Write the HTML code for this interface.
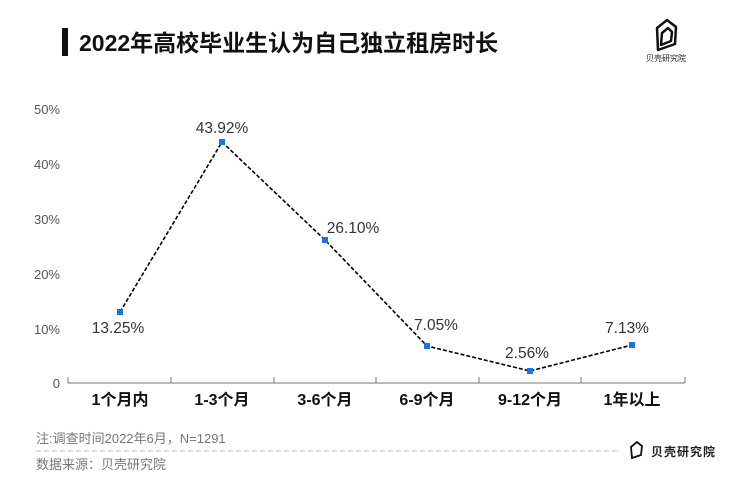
<!DOCTYPE html>
<html><head><meta charset="utf-8"><style>
body{margin:0;background:#fff;}
svg text{font-family:"Liberation Sans","Noto Sans CJK SC",sans-serif;}
</style></head><body>
<svg width="750" height="494" viewBox="0 0 750 494" xmlns="http://www.w3.org/2000/svg">
<rect x="62" y="28" width="6" height="28" fill="#111"/>
<text x="79" y="51" font-size="23" font-weight="bold" fill="#111">2022年高校毕业生认为自己独立租房时长</text>
<g fill="none" stroke="#111" stroke-width="2.5" stroke-linejoin="round">
<path d="M657 28 L667 20 L676 27 L675 44 L658 50 Z"/>
<path d="M662 33 L668 28 L672 32 L671 41 L661 45 Z"/>
</g>
<text x="666" y="61" font-size="8" text-anchor="middle" fill="#222">贝壳研究院</text>
<g font-size="13" fill="#555" text-anchor="end">
<text x="60" y="114">50%</text><text x="60" y="169">40%</text><text x="60" y="224">30%</text>
<text x="60" y="279">20%</text><text x="60" y="334">10%</text><text x="60" y="388">0</text>
</g>
<line x1="68" y1="383" x2="685" y2="383" stroke="#777" stroke-width="1"/>
<g stroke="#777"><line x1="171" y1="377" x2="171" y2="383"/><line x1="274" y1="377" x2="274" y2="383"/><line x1="376" y1="377" x2="376" y2="383"/><line x1="479" y1="377" x2="479" y2="383"/><line x1="581" y1="377" x2="581" y2="383"/><line x1="685" y1="377" x2="685" y2="383"/><line x1="68" y1="377" x2="68" y2="383"/></g>
<polyline points="120,312 222,142 325,240 427,346 530,371 632,345" fill="none" stroke="#000" stroke-width="1.6" stroke-dasharray="4,2"/>
<g fill="#1a73e8"><rect x="117" y="309" width="6" height="6"/><rect x="219" y="139" width="6" height="6"/><rect x="322" y="237" width="6" height="6"/><rect x="424" y="343" width="6" height="6"/><rect x="527" y="368" width="6" height="6"/><rect x="629" y="342" width="6" height="6"/></g>
<g font-size="15.5" fill="#333" text-anchor="middle">
<text x="118" y="333">13.25%</text><text x="222" y="133">43.92%</text><text x="353" y="233">26.10%</text>
<text x="436" y="330">7.05%</text><text x="527" y="358">2.56%</text><text x="627" y="333">7.13%</text>
</g>
<g font-size="16" font-weight="bold" fill="#111" text-anchor="middle">
<text x="120" y="405">1个月内</text><text x="222" y="405">1-3个月</text><text x="325" y="405">3-6个月</text>
<text x="427" y="405">6-9个月</text><text x="530" y="405">9-12个月</text><text x="632" y="405">1年以上</text>
</g>
<text x="36" y="443" font-size="13" fill="#777">注:调查时间2022年6月，N=1291</text>
<line x1="36" y1="451" x2="620" y2="451" stroke="#bbb" stroke-dasharray="5,3"/>
<text x="36" y="469" font-size="13" fill="#777">数据来源：贝壳研究院</text>
<g fill="none" stroke="#111" stroke-width="1.8"><path d="M631 447 L637 442 L642 446 L641 455 L632 458 Z"/></g>
<text x="651" y="456" font-size="12" font-weight="bold" fill="#222" letter-spacing="1">贝壳研究院</text>
</svg>
</body></html>
